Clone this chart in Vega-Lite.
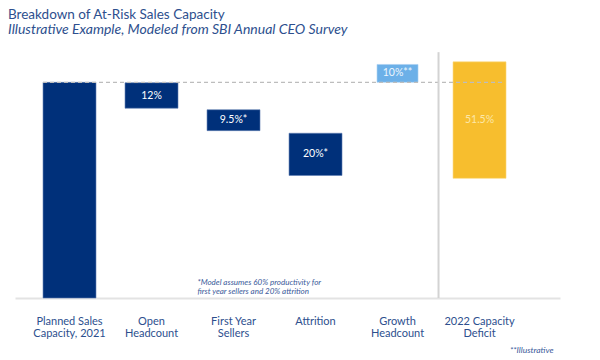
{
  "$schema": "https://vega.github.io/schema/vega-lite/v6.json",
  "width": 545,
  "height": 248,
  "autosize": {"type": "none"},
  "padding": {"left": 15, "top": 50, "right": 40, "bottom": 62},
  "background": "white",
  "config": {"view": {"stroke": null}, "font": "Lato"},
  "title": {
    "text": "Breakdown of At-Risk Sales Capacity",
    "subtitle": "Illustrative Example, Modeled from SBI Annual CEO Survey",
    "anchor": "start",
    "frame": "group",
    "dx": -7,
    "offset": 13,
    "font": "Lato",
    "fontSize": 13.5,
    "fontWeight": "normal",
    "color": "#2d4f8e",
    "subtitleFont": "Lato",
    "subtitleFontSize": 14,
    "subtitleFontStyle": "italic",
    "subtitleColor": "#2d4f8e",
    "subtitlePadding": 2
  },
  "datasets": {
    "bars": [
      {"cat": "Planned Sales|Capacity, 2021", "kind": "base", "y0": 0, "y1": 100, "label": ""},
      {"cat": "Open|Headcount", "kind": "loss", "y0": 88, "y1": 99.8, "label": "12%"},
      {"cat": "First Year|Sellers", "kind": "loss", "y0": 77.6, "y1": 87.3, "label": "9.5%*"},
      {"cat": "Attrition", "kind": "loss", "y0": 56.8, "y1": 76.4, "label": "20%*"},
      {"cat": "Growth|Headcount", "kind": "gain", "y0": 100, "y1": 108.3, "label": "10%**"},
      {"cat": "2022 Capacity|Deficit", "kind": "deficit", "y0": 55.5, "y1": 109.5, "label": "51.5%"}
    ]
  },
  "encoding": {
    "x": {
      "field": "cat",
      "type": "nominal",
      "sort": null,
      "scale": {
        "domain": ["Planned Sales|Capacity, 2021", "Open|Headcount", "First Year|Sellers", "Attrition", "Growth|Headcount", "2022 Capacity|Deficit"],
        "paddingInner": 0,
        "paddingOuter": 0.323,
        "align": 0.255
      },
      "axis": {
        "title": "**Illustrative",
        "titleFont": "Lato",
        "titleFontStyle": "italic",
        "titleFontWeight": "normal",
        "titleFontSize": 8.5,
        "titleColor": "#3a5a9a",
        "titleAnchor": "end",
        "titlePadding": 7,
        "titleX": 538,
        "labelAngle": 0,
        "labelExpr": "split(datum.value, '|')",
        "labelFont": "Lato",
        "labelFontSize": 11,
        "labelColor": "#2d4f8e",
        "labelLineHeight": 12.5,
        "labelPadding": 17,
        "ticks": false,
        "domainColor": "#e3e3e3",
        "domainWidth": 2,
        "labelBound": false,
        "labelOverlap": false
      }
    }
  },
  "layer": [
    {
      "data": {"name": "bars"},
      "transform": [{"filter": "datum.kind != 'gain'"}],
      "mark": {"type": "bar", "width": {"band": 0.646}, "strokeWidth": 0.6},
      "encoding": {
        "y": {"field": "y0", "type": "quantitative", "scale": {"domain": [0, 115], "nice": false}, "axis": null},
        "y2": {"field": "y1"},
        "color": {
          "field": "kind",
          "type": "nominal",
          "scale": {"domain": ["base", "loss", "gain", "deficit"], "range": ["#00307a", "#00307a", "#6cb0e8", "#f7be2e"]},
          "legend": null
        },
        "stroke": {
          "field": "kind",
          "type": "nominal",
          "scale": {"domain": ["base", "loss", "gain", "deficit"], "range": ["#5f7db3", "#5f7db3", "#a9d0f2", "#fbd77a"]},
          "legend": null
        }
      }
    },
    {
      "data": {"name": "bars"},
      "transform": [{"filter": "datum.kind == 'gain'"}],
      "mark": {"type": "bar", "width": {"band": 0.5}, "color": "#6cb0e8", "stroke": "#a9d0f2", "strokeWidth": 0.6},
      "encoding": {
        "y": {"field": "y0", "type": "quantitative"},
        "y2": {"field": "y1"}
      }
    },
    {
      "data": {"values": [{"cat": "Planned Sales|Capacity, 2021", "cat2": "2022 Capacity|Deficit", "v": 100}]},
      "mark": {"type": "rule", "strokeDash": [4, 3], "color": "#bdbdbd", "strokeWidth": 1.3, "xOffset": -26.5, "x2Offset": 24},
      "encoding": {
        "y": {"field": "v", "type": "quantitative"},
        "x2": {"field": "cat2"}
      }
    },
    {
      "data": {"values": [{"cat": "2022 Capacity|Deficit", "a": 0, "b": 114}]},
      "mark": {"type": "rule", "color": "#d3d3d3", "strokeWidth": 2, "xOffset": -41},
      "encoding": {
        "y": {"field": "a", "type": "quantitative"},
        "y2": {"field": "b"}
      }
    },
    {
      "data": {"name": "bars"},
      "transform": [
        {"filter": "datum.label != ''"},
        {"fold": ["y0", "y1"], "as": ["k", "v"]},
        {"aggregate": [{"op": "mean", "field": "v", "as": "mid"}], "groupby": ["cat", "kind", "label"]}
      ],
      "mark": {"type": "text", "font": "Lato", "fontSize": 10.5, "baseline": "middle", "align": "center"},
      "encoding": {
        "y": {"field": "mid", "type": "quantitative"},
        "text": {"field": "label"},
        "color": {
          "condition": [
            {"test": "datum.kind == 'deficit'", "value": "#fce7a8"},
            {"test": "datum.kind == 'gain'", "value": "#eef6fd"}
          ],
          "value": "#ffffff"
        }
      }
    },
    {
      "data": {"values": [{"cat": "First Year|Sellers", "v": 7, "t": ["*Model assumes 60% productivity for", "first year sellers and 20% attrition"]}]},
      "mark": {"type": "text", "font": "Lato", "fontSize": 8, "fontStyle": "italic", "align": "left", "baseline": "middle", "dx": -36, "lineHeight": 9.5, "color": "#3a5a9a"},
      "encoding": {
        "y": {"field": "v", "type": "quantitative"},
        "text": {"field": "t"}
      }
    }
  ]
}
